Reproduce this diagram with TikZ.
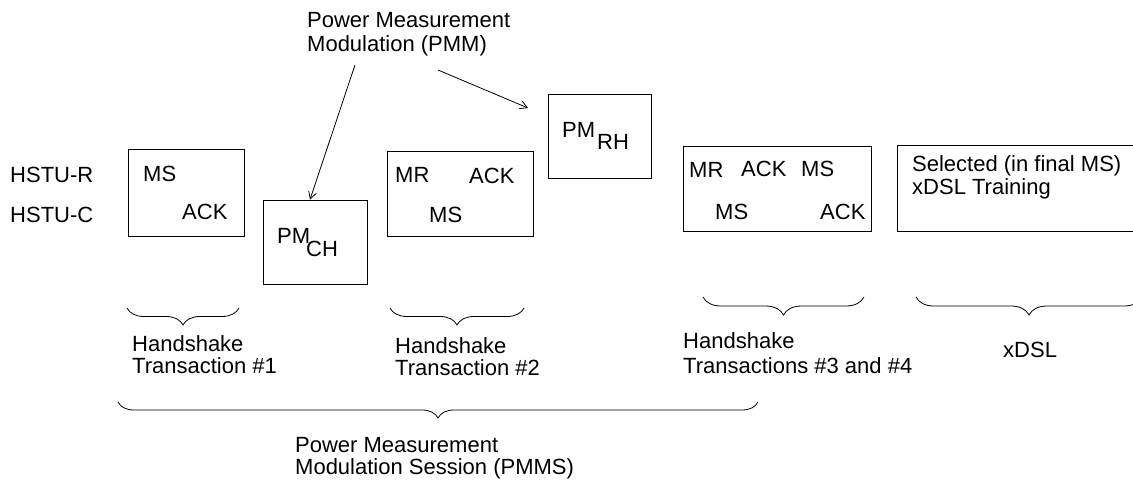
\documentclass[tikz,border=0pt]{standalone}
\usepackage{fontspec}
\setmainfont{Liberation Sans}
\usetikzlibrary{arrows.meta,decorations.pathreplacing}
\tikzset{
  lbl/.style={font=\fontsize{22}{24}\selectfont, inner sep=0pt, anchor=base west},
  box/.style={draw=black, line width=0.9pt, inner sep=0pt, anchor=center},
  arr/.style={draw=black, line width=0.8pt, -{Straight Barb[length=7pt,width=8pt,line width=0.8pt]}},
  brc/.style={draw=black, line width=0.8pt, decorate, decoration={brace, mirror, amplitude=17pt}}
}
\begin{document}
\begin{tikzpicture}[x=1pt,y=-1pt]
\useasboundingbox (0,0) rectangle (1133,480);
\fill[white] (0,0) rectangle (1133,480);
\clip (0,0) rectangle (1133,480);

% top label
\node[lbl] (pmm1) at (307,27) {Power Measurement};
\node[lbl] (pmm2) at (307,51) {Modulation (PMM)};

% row labels
\node[lbl] (hr) at (10,182) {HSTU-R};
\node[lbl] (hc) at (10,222) {HSTU-C};

% boxes
\node[box, minimum width=116pt, minimum height=87pt] (b1) at (186,192.5) {};
\node[box, minimum width=104pt, minimum height=84pt] (pmch) at (315,242) {};
\node[box, minimum width=146pt, minimum height=85pt] (b3) at (460,193.5) {};
\node[box, minimum width=103pt, minimum height=84pt] (pmrh) at (599.5,136) {};
\node[box, minimum width=188pt, minimum height=85pt] (b4) at (777,188.5) {};
\node[box, minimum width=240pt, minimum height=86pt] (b5) at (1017,188) {};

% box 1
\node[lbl] (b1ms) at (143,181) {MS};
\node[lbl] (b1ack) at (182,219) {ACK};
% PM CH
\node[lbl] (pmchp) at (277,243) {PM};
\node[lbl] (pmchs) at (306,256) {CH};
% box 3
\node[lbl] (b3mr) at (395,182) {MR};
\node[lbl] (b3ack) at (469,183) {ACK};
\node[lbl] (b3ms) at (429,222) {MS};
% PM RH
\node[lbl] (pmrhp) at (562,137) {PM};
\node[lbl] (pmrhs) at (597,149) {RH};
% box 4
\node[lbl] (b4mr) at (689,177) {MR};
\node[lbl] (b4ack) at (741,176) {ACK};
\node[lbl] (b4ms) at (801,176) {MS};
\node[lbl] (b4ms2) at (715,219) {MS};
\node[lbl] (b4ack2) at (820,219) {ACK};
% box 5
\node[lbl] (b5a) at (912,171) {Selected (in final MS)};
\node[lbl] (b5b) at (912,194) {xDSL Training};

% arrows
\coordinate (a1s) at (355,65);
\coordinate (a2s) at (438,70);
\coordinate (a2e) at (528,108);
\draw[arr] (a1s) -- ([xshift=-5pt]pmch.north);
\draw[arr] (a2s) -- (a2e);

% braces
\coordinate (br1a) at (127,308); \coordinate (br1b) at (239,308);
\coordinate (br2a) at (390,308); \coordinate (br2b) at (524,308);
\coordinate (br3a) at (703,297); \coordinate (br3b) at (864,297);
\coordinate (br4a) at (916,297); \coordinate (br4b) at (1142,297);
\coordinate (br5a) at (118,402); \coordinate (br5b) at (758,402);
\draw[brc] (br1a) -- (br1b);
\draw[brc] (br2a) -- (br2b);
\draw[brc, decoration={amplitude=18pt}] (br3a) -- (br3b);
\draw[brc, decoration={amplitude=18pt}] (br4a) -- (br4b);
\draw[brc, decoration={amplitude=16pt}] (br5a) -- (br5b);

% brace labels
\node[lbl] (h1a) at (132,351) {Handshake};
\node[lbl] (h1b) at (132,373) {Transaction \#1};
\node[lbl] (h2a) at (395,353) {Handshake};
\node[lbl] (h2b) at (395,375) {Transaction \#2};
\node[lbl] (h3a) at (683,348) {Handshake};
\node[lbl] (h3b) at (683,373) {Transactions \#3 and \#4};
\node[lbl] (xd) at (1003,357) {xDSL};
\node[lbl] (s1) at (295,452) {Power Measurement};
\node[lbl] (s2) at (295,474) {Modulation Session (PMMS)};
\end{tikzpicture}
\end{document}
